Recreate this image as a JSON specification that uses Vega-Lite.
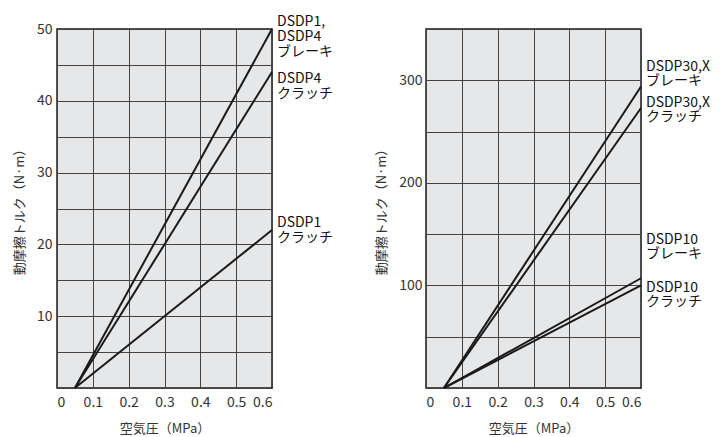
{
  "$schema": "https://vega.github.io/schema/vega-lite/v6.json",
  "background": "white",
  "padding": {"left": 12, "top": 14, "right": 5, "bottom": 2},
  "spacing": 154,
  "bounds": "flush",
  "config": {
    "font": "Noto Sans CJK JP",
    "view": {"stroke": "#1a1a1a", "strokeWidth": 1.5, "fill": "#e6e7e8"},
    "axis": {
      "grid": true, "gridColor": "#444444", "gridWidth": 1, "gridOpacity": 1,
      "ticks": false, "domain": false, "labelOverlap": false, "labelBound": false,
      "labelFont": "Noto Sans CJK JP", "labelFontSize": 14, "labelColor": "#333333",
      "titleFont": "Noto Sans CJK JP", "titleFontSize": 13, "titleFontWeight": "normal", "titleColor": "#333333"
    },
    "text": {"font": "Noto Sans CJK JP", "fontSize": 14, "color": "#111111"}
  },
  "datasets": {
    "left": [
      {"series": "DSDP1,DSDP4 brake", "p": 0.05, "t": 0},
      {"series": "DSDP1,DSDP4 brake", "p": 0.6, "t": 50},
      {"series": "DSDP4 clutch", "p": 0.05, "t": 0},
      {"series": "DSDP4 clutch", "p": 0.6, "t": 44},
      {"series": "DSDP1 clutch", "p": 0.05, "t": 0},
      {"series": "DSDP1 clutch", "p": 0.6, "t": 22}
    ],
    "right": [
      {"series": "DSDP30,X brake", "p": 0.05, "t": 0},
      {"series": "DSDP30,X brake", "p": 0.6, "t": 294},
      {"series": "DSDP30,X clutch", "p": 0.05, "t": 0},
      {"series": "DSDP30,X clutch", "p": 0.6, "t": 273},
      {"series": "DSDP10 brake", "p": 0.05, "t": 0},
      {"series": "DSDP10 brake", "p": 0.6, "t": 107},
      {"series": "DSDP10 clutch", "p": 0.05, "t": 0},
      {"series": "DSDP10 clutch", "p": 0.6, "t": 100}
    ],
    "leftLabels": [
      {"p": 0.6, "t": 51.0, "label": ["DSDP1,", "DSDP4", "ブレーキ"]},
      {"p": 0.6, "t": 43.1, "label": ["DSDP4", "クラッチ"]},
      {"p": 0.6, "t": 23.0, "label": ["DSDP1", "クラッチ"]}
    ],
    "rightLabels": [
      {"p": 0.6, "t": 313, "label": ["DSDP30,X", "ブレーキ"]},
      {"p": 0.6, "t": 278, "label": ["DSDP30,X", "クラッチ"]},
      {"p": 0.6, "t": 144, "label": ["DSDP10", "ブレーキ"]},
      {"p": 0.6, "t": 97.5, "label": ["DSDP10", "クラッチ"]}
    ]
  },
  "hconcat": [
    {
      "width": 215,
      "height": 359,
      "encoding": {
        "x": {"field": "p", "type": "quantitative",
          "scale": {"domain": [0, 0.6], "nice": false, "zero": false},
          "axis": {"values": [0, 0.1, 0.2, 0.3, 0.4, 0.5, 0.6], "labelExpr": "datum.value == 0 ? '0' : format(datum.value, '.1f')", "labelPadding": 7, "title": "空気圧（MPa）", "titlePadding": 13}},
        "y": {"field": "t", "type": "quantitative",
          "scale": {"domain": [0, 50], "nice": false},
          "axis": {"values": [0, 5, 10, 15, 20, 25, 30, 35, 40, 45, 50], "labelExpr": "datum.value > 0 && datum.value % 10 == 0 ? datum.label : ''", "labelPadding": 5, "title": "動摩擦トルク（N·m）", "titlePadding": 10}}
      },
      "layer": [
        {
          "data": {"name": "left"},
          "mark": {"type": "line", "color": "#1a1a1a", "strokeWidth": 2},
          "encoding": {"detail": {"field": "series"}}
        },
        {
          "data": {"name": "leftLabels"},
          "mark": {"type": "text", "align": "left", "baseline": "middle", "dx": 5, "lineHeight": 15},
          "encoding": {"text": {"field": "label"}}
        }
      ]
    },
    {
      "width": 215,
      "height": 359,
      "encoding": {
        "x": {"field": "p", "type": "quantitative",
          "scale": {"domain": [0, 0.6], "nice": false, "zero": false},
          "axis": {"values": [0, 0.1, 0.2, 0.3, 0.4, 0.5, 0.6], "labelExpr": "datum.value == 0 ? '0' : format(datum.value, '.1f')", "labelPadding": 7, "title": "空気圧（MPa）", "titlePadding": 13}},
        "y": {"field": "t", "type": "quantitative",
          "scale": {"domain": [0, 350], "nice": false},
          "axis": {"values": [0, 50, 100, 150, 200, 250, 300, 350], "labelExpr": "datum.value == 100 || datum.value == 200 || datum.value == 300 ? datum.label : ''", "labelPadding": 4, "title": "動摩擦トルク（N·m）", "titlePadding": 10}}
      },
      "layer": [
        {
          "data": {"name": "right"},
          "mark": {"type": "line", "color": "#1a1a1a", "strokeWidth": 2},
          "encoding": {"detail": {"field": "series"}}
        },
        {
          "data": {"name": "rightLabels"},
          "mark": {"type": "text", "align": "left", "baseline": "middle", "dx": 5, "lineHeight": 14},
          "encoding": {"text": {"field": "label"}}
        }
      ]
    }
  ]
}
